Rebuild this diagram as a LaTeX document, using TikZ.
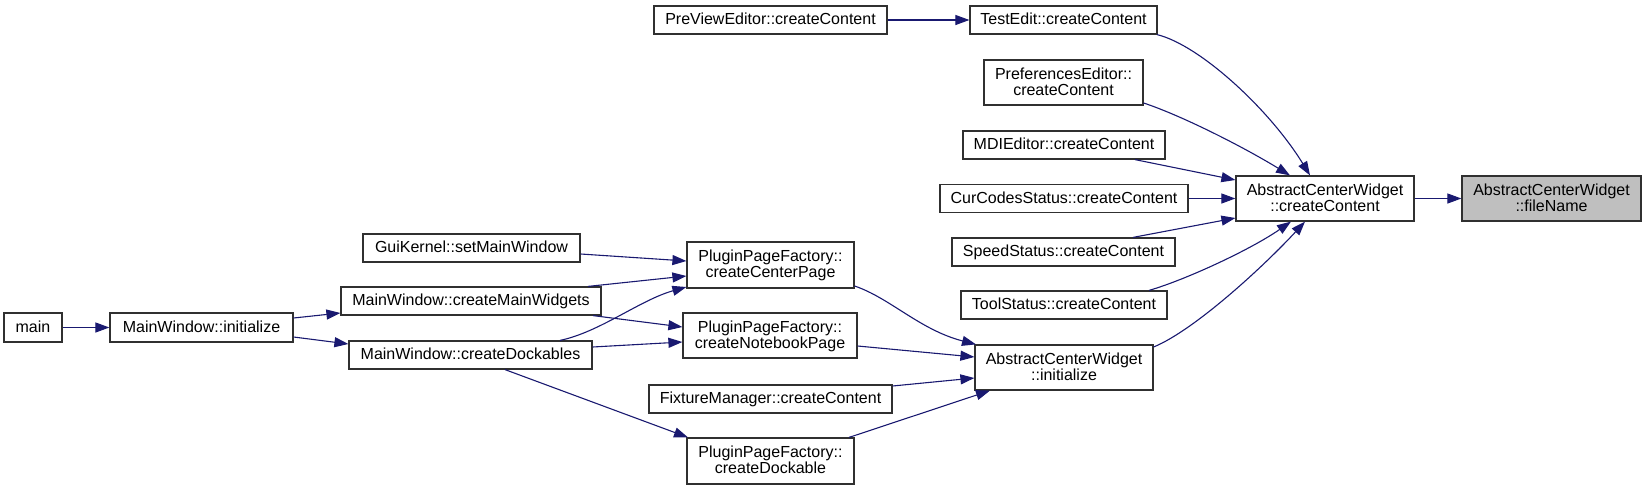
\documentclass[tikz,border=0pt]{standalone}
\usepackage{fontspec}
\setmainfont{Liberation Sans}
\usetikzlibrary{arrows.meta}
\definecolor{edgec}{HTML}{191970}
\definecolor{boxc}{HTML}{303030}
\definecolor{hlfill}{HTML}{BFBFBF}
\newcommand\twolines[2]{\vbox{\halign{\hfil##\hfil\cr#1\cr#2\cr}}}
\begin{document}
\begin{tikzpicture}[x=1pt,y=-1pt,
  box/.style={draw=boxc, fill=white, line width=1.2pt, inner sep=0pt,
    font=\fontsize{16}{16}\selectfont, text height=11.5pt, text depth=2pt},
  box2/.style={box, text height=25pt, text depth=0pt},
  hl/.style={fill=hlfill},
  edge/.style={draw=edgec, line width=1.1pt, -{Triangle[length=14pt,width=10pt]}}]
\useasboundingbox (0,0) rectangle (1647,490);
% nodes
\node[box, minimum width=58pt, minimum height=29pt] (main) at (33,327.5) {main};
\node[box, minimum width=183pt, minimum height=29pt] (init) at (201.5,327.5) {MainWindow::initialize};
\node[box, minimum width=217pt, minimum height=28pt] (gui) at (471.5,248) {GuiKernel::setMainWindow};
\node[box, minimum width=260pt, minimum height=28pt] (mwid) at (471,301) {MainWindow::createMainWidgets};
\node[box, minimum width=243pt, minimum height=28pt] (dock) at (470.5,355) {MainWindow::createDockables};
\node[box2, minimum width=167pt, minimum height=46pt] (ccp) at (770.5,265) {\twolines{PluginPageFactory::}{createCenterPage}};
\node[box2, minimum width=174pt, minimum height=45pt] (cnp) at (770,335.5) {\twolines{PluginPageFactory::}{createNotebookPage}};
\node[box, minimum width=243pt, minimum height=28pt] (fix) at (770.5,399) {FixtureManager::createContent};
\node[box2, minimum width=167pt, minimum height=46pt] (cdk) at (770.5,461) {\twolines{PluginPageFactory::}{createDockable}};
\node[box, minimum width=233pt, minimum height=28pt] (prev) at (770.5,20) {PreViewEditor::createContent};
\node[box, minimum width=187pt, minimum height=28pt] (test) at (1063.5,20) {TestEdit::createContent};
\node[box2, minimum width=159pt, minimum height=45pt] (pref) at (1063.5,82.5) {\twolines{PreferencesEditor::}{createContent}};
\node[box, minimum width=202pt, minimum height=28pt] (mdi) at (1064,145) {MDIEditor::createContent};
\node[box, minimum width=248pt, minimum height=28pt] (cur) at (1064,198.5) {CurCodesStatus::createContent};
\node[box, minimum width=223pt, minimum height=28pt] (speed) at (1063.5,252) {SpeedStatus::createContent};
\node[box, minimum width=206pt, minimum height=28pt] (tool) at (1064,305) {ToolStatus::createContent};
\node[box2, minimum width=178pt, minimum height=45pt] (acwi) at (1064,367.5) {\twolines{AbstractCenterWidget}{::initialize}};
\node[box2, minimum width=178pt, minimum height=45pt] (acwc) at (1325,198.5) {\twolines{AbstractCenterWidget}{::createContent}};
\node[box2, hl, minimum width=179pt, minimum height=45pt] (fn) at (1551.5,198.5) {\twolines{AbstractCenterWidget}{::fileName}};
% edges
\draw[edge] (main) -- (init);
\draw[edge] (init.east |- 0,318) -- (mwid.west |- 0,313);
\draw[edge] (init.east |- 0,337) -- (dock.west |- 0,344);
\draw[edge] (gui.east |- 0,254) -- (ccp.west |- 0,261);
\draw[edge] (mwid.north -| 588,0) -- (ccp.west |- 0,276);
\draw[edge] (dock.north -| 560,0) .. controls (600,332) and (640,300) .. (ccp.west |- 0,287);
\draw[edge] (mwid.south -| 593,0) -- (cnp.west |- 0,327);
\draw[edge] (dock.east |- 0,347) -- (cnp.west |- 0,342);
\draw[edge] (dock.south -| 505,0) -- (cdk.north -| 688,0);
\draw[edge] (ccp.east |- 0,286) .. controls (890,298) and (920,330) .. (acwi.north -| 976,0);
\draw[edge] (cnp.east |- 0,346) -- (acwi.west |- 0,357);
\draw[edge] (fix.east |- 0,386) -- (acwi.west |- 0,378);
\draw[edge] (cdk.north -| 849,0) -- (acwi.south -| 990,0);
\draw[edge] (acwi.east |- 0,347) .. controls (1195,330) and (1265,265) .. (acwc.south -| 1305,0);
\draw[edge] (tool.north -| 1149,0) .. controls (1185,280) and (1250,250) .. (acwc.south -| 1291,0);
\draw[edge] (speed.north -| 1133,0) -- (acwc.west |- 0,218);
\draw[edge] (cur) -- (acwc);
\draw[edge] (mdi.south -| 1135,0) -- (acwc.west |- 0,180);
\draw[edge] (pref.east |- 0,103) .. controls (1180,115) and (1240,145) .. (acwc.north -| 1290,0);
\draw[edge] (test.south -| 1157,0) .. controls (1200,45) and (1270,110) .. (acwc.north -| 1310,0);
\draw[edge] (prev) -- (test);
\draw[edge] (acwc) -- (fn);
\end{tikzpicture}
\end{document}
